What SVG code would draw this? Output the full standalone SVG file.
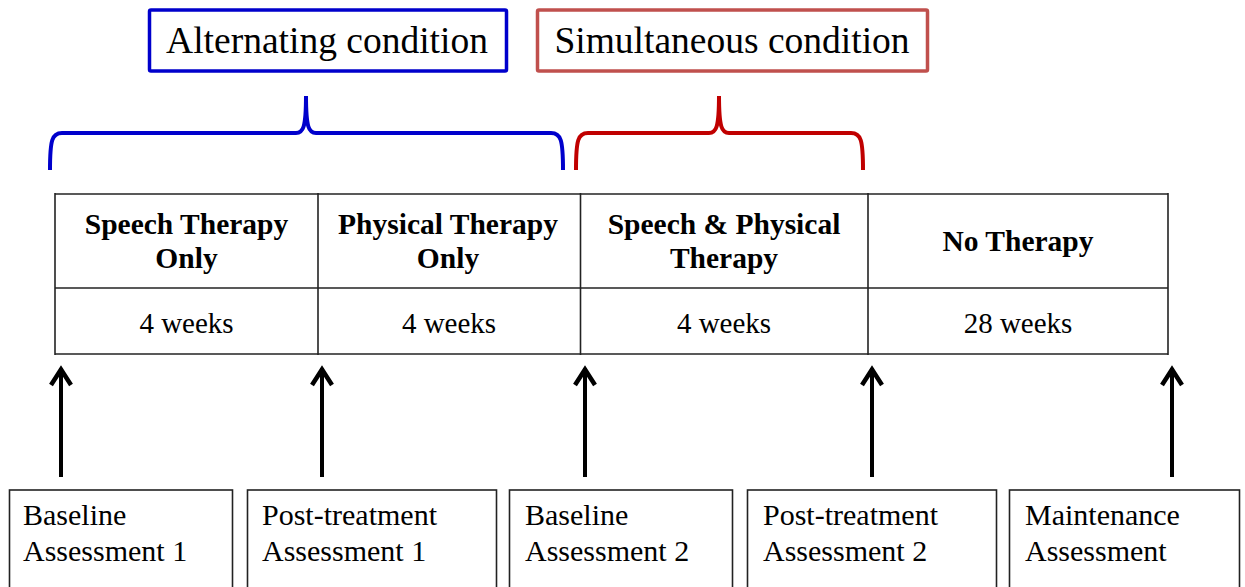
<svg xmlns="http://www.w3.org/2000/svg" width="1245" height="587" viewBox="0 0 1245 587" font-family="'Liberation Serif', 'Times New Roman', serif">
  <style>
    text { font-family: "Liberation Serif", "Times New Roman", serif; fill: #000; }
    .title { font-size: 37.5px; }
    .head { font-size: 29.5px; font-weight: bold; text-anchor: middle; }
    .dur { font-size: 29px; text-anchor: middle; }
    .lbl { font-size: 30px; }
    .grid { stroke: #222; stroke-width: 1.6; fill: none; }
    .box { fill: #fff; stroke: #222; stroke-width: 1.6; }
    .arrow { stroke: #000; stroke-width: 4; fill: none; }
    .brace { stroke-width: 4; fill: none; stroke-linecap: butt; }
  </style>
  <defs>
    <marker id="ah" markerUnits="userSpaceOnUse" markerWidth="30" markerHeight="30" viewBox="-22 -15 30 30" refX="0" refY="0" orient="auto">
      <path d="M-17,-10 L-1.5,0 L-17,10" stroke="#000" stroke-width="4.5" fill="none" stroke-linejoin="miter"/>
    </marker>
  </defs>
  <rect width="1245" height="587" fill="#fff"/>

  <g id="alternating-condition">
    <rect x="149.5" y="10" width="357" height="61" fill="#fff" stroke="#0000CC" stroke-width="3.5" rx="1.5"/>
    <text class="title" x="327" y="53" text-anchor="middle">Alternating condition</text>
  </g>
  <g id="simultaneous-condition">
    <rect x="537.5" y="10" width="390" height="61" fill="#fff" stroke="#C0504D" stroke-width="3.5" rx="1.5"/>
    <text class="title" x="732" y="53" text-anchor="middle">Simultaneous condition</text>
  </g>

  <g id="braces">
    <path class="brace" stroke="#0000CC" d="M50,170 C50,140 52,133 62,133 L296,133 C303,133 306,128 306,96 C306,128 309,133 316,133 L551,133 C561,133 563,140 563,170"/>
    <path class="brace" stroke="#C00000" d="M576,170 C576,140 578,133 588,133 L709,133 C716,133 719,128 719,96 C719,128 722,133 729,133 L851,133 C861,133 863,140 863,170"/>
  </g>

  <g id="timeline-table">
    <line class="grid" x1="55" y1="194" x2="1168" y2="194"/>
    <line class="grid" x1="55" y1="288" x2="1168" y2="288"/>
    <line class="grid" x1="55" y1="354" x2="1168" y2="354" stroke-width="2"/>
    <line class="grid" x1="55" y1="193" x2="55" y2="355"/>
    <line class="grid" x1="318" y1="193" x2="318" y2="355"/>
    <line class="grid" x1="580.5" y1="193" x2="580.5" y2="355"/>
    <line class="grid" x1="868" y1="193" x2="868" y2="355"/>
    <line class="grid" x1="1168" y1="193" x2="1168" y2="355"/>
  </g>
  <g id="phase-speech">
    <text class="head" x="186.5" y="234">Speech Therapy</text>
    <text class="head" x="186.5" y="268">Only</text>
    <text class="dur" x="186.5" y="333">4 weeks</text>
  </g>
  <g id="phase-physical">
    <text class="head" x="448" y="234">Physical Therapy</text>
    <text class="head" x="448" y="268">Only</text>
    <text class="dur" x="449" y="333">4 weeks</text>
  </g>
  <g id="phase-both">
    <text class="head" x="724" y="234">Speech &amp; Physical</text>
    <text class="head" x="724" y="268">Therapy</text>
    <text class="dur" x="724" y="333">4 weeks</text>
  </g>
  <g id="phase-none">
    <text class="head" x="1018" y="251">No Therapy</text>
    <text class="dur" x="1018" y="333">28 weeks</text>
  </g>

  <g id="connectors">
    <line class="arrow" x1="61" y1="477" x2="61" y2="368" marker-end="url(#ah)"/>
    <line class="arrow" x1="322" y1="477" x2="322" y2="368" marker-end="url(#ah)"/>
    <line class="arrow" x1="585" y1="477" x2="585" y2="368" marker-end="url(#ah)"/>
    <line class="arrow" x1="872" y1="477" x2="872" y2="368" marker-end="url(#ah)"/>
    <line class="arrow" x1="1172" y1="477" x2="1172" y2="368" marker-end="url(#ah)"/>
  </g>

  <g id="baseline-1">
    <rect class="box" x="9.5" y="490" width="223" height="100"/>
    <text class="lbl" x="23" y="525">Baseline</text>
    <text class="lbl" x="23" y="561">Assessment 1</text>
  </g>
  <g id="post-treatment-1">
    <rect class="box" x="247.5" y="490" width="249" height="100"/>
    <text class="lbl" x="262" y="525">Post-treatment</text>
    <text class="lbl" x="262" y="561">Assessment 1</text>
  </g>
  <g id="baseline-2">
    <rect class="box" x="509.5" y="490" width="223" height="100"/>
    <text class="lbl" x="525" y="525">Baseline</text>
    <text class="lbl" x="525" y="561">Assessment 2</text>
  </g>
  <g id="post-treatment-2">
    <rect class="box" x="747.5" y="490" width="249" height="100"/>
    <text class="lbl" x="763" y="525">Post-treatment</text>
    <text class="lbl" x="763" y="561">Assessment 2</text>
  </g>
  <g id="maintenance">
    <rect class="box" x="1009.5" y="490" width="230" height="100"/>
    <text class="lbl" x="1025" y="525">Maintenance</text>
    <text class="lbl" x="1025" y="561">Assessment</text>
  </g>
</svg>
